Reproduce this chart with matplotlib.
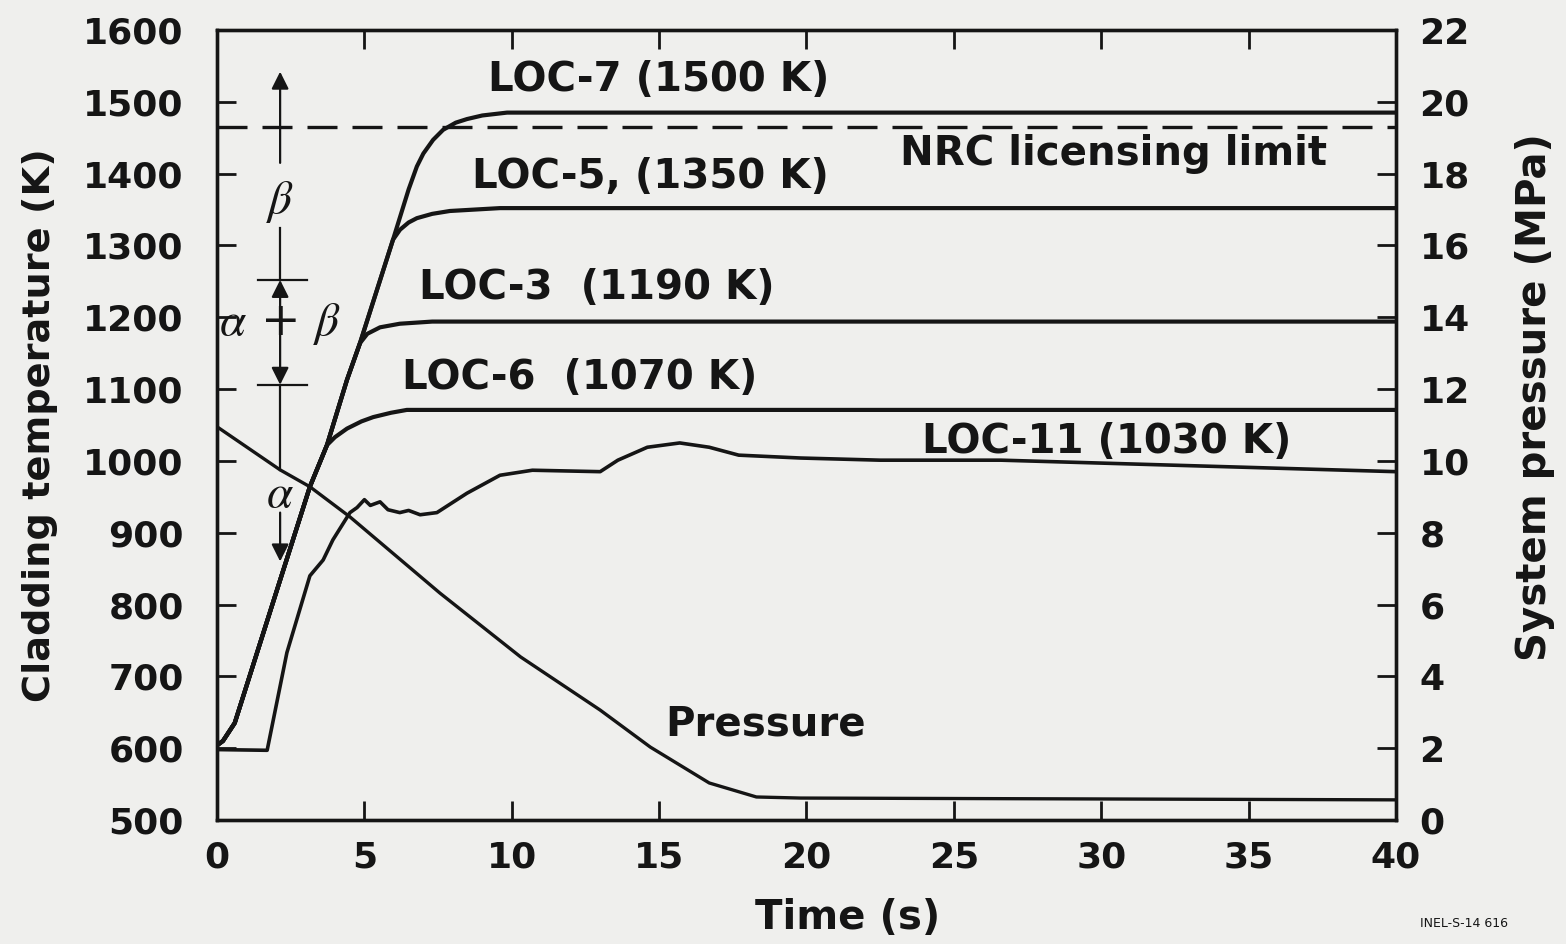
import matplotlib.pyplot as plt

plt.rcParams['font.family'] = ['DejaVu Sans']
plt.rcParams['mathtext.fontset'] = 'stix'

ink = '#151515'
paper = '#efefed'

# axis ticks
time_ticks = [0, 5, 10, 15, 20, 25, 30, 35, 40]
temp_ticks = [500, 600, 700, 800, 900, 1000, 1100, 1200, 1300, 1400, 1500, 1600]
press_ticks = [0, 2, 4, 6, 8, 10, 12, 14, 16, 18, 20, 22]

# cladding temperature traces (time s, temperature K)
loc7_t = [0, 0.2, 0.6, 2.14, 3.15, 3.73, 4.41, 4.85, 5.97, 6.5, 6.78, 7.0, 7.33, 7.67, 8.1, 8.48, 9.0, 9.84, 20, 40]
loc7_T = [604, 610, 635, 834, 964, 1022, 1113, 1164, 1308, 1378, 1410, 1428, 1447, 1461, 1471, 1476, 1481, 1485, 1485, 1485]

loc5_t = [0, 0.2, 0.6, 2.14, 3.15, 3.73, 4.41, 4.85, 5.97, 6.21, 6.5, 6.78, 7.3, 7.9, 9.6, 20, 40]
loc5_T = [604, 610, 635, 834, 964, 1022, 1113, 1164, 1308, 1322, 1332, 1338, 1344, 1348, 1352, 1352, 1352]

loc3_t = [0, 0.2, 0.6, 2.14, 3.15, 3.73, 4.41, 4.85, 5.1, 5.53, 6.2, 7.3, 20, 40]
loc3_T = [604, 610, 635, 834, 964, 1022, 1113, 1164, 1177, 1186, 1191, 1194, 1194, 1194]

loc6_t = [0, 0.2, 0.6, 2.14, 3.15, 3.73, 4.0, 4.41, 4.9, 5.3, 5.9, 6.44, 20, 40]
loc6_T = [604, 610, 635, 834, 964, 1022, 1033, 1045, 1055, 1061, 1067, 1071, 1071, 1071]

loc11_t = [0, 1.7, 2.37, 3.15, 3.6, 3.93, 4.51, 4.75, 5.0, 5.2, 5.53, 5.8, 6.2, 6.5, 6.89, 7.46,
           8.48, 9.6, 10.7, 13.0, 13.6, 14.6, 15.7, 16.7, 17.7, 19.8, 22.5, 26.6, 33.3, 40]
loc11_T = [598, 597, 733, 840, 862, 890, 928, 935, 946, 938, 943, 932, 928, 931, 925, 928,
           955, 980, 987, 985, 1001, 1019, 1025, 1019, 1008, 1004, 1001, 1001, 993, 985]

# system pressure (time s, MPa)
press_t = [0, 2.14, 3.15, 4.51, 7.56, 10.3, 13.0, 14.7, 16.7, 18.3, 19.8, 40]
press_P = [10.95, 9.75, 9.28, 8.44, 6.32, 4.54, 3.06, 2.03, 1.03, 0.64, 0.61, 0.56]

nrc_limit = 1465

fig = plt.figure(figsize=(15.66, 9.44), dpi=100, facecolor=paper)
ax = fig.add_axes([0.1386, 0.1314, 0.7528, 0.8368])
ax.set_facecolor(paper)

for tt, TT in [(loc7_t, loc7_T), (loc5_t, loc5_T), (loc3_t, loc3_T), (loc6_t, loc6_T)]:
    ax.plot(tt, TT, color=ink, lw=3.0, solid_joinstyle='round')
ax.plot(loc11_t, loc11_T, color=ink, lw=2.6, solid_joinstyle='round')
ax.axhline(nrc_limit, color=ink, lw=2.4, dashes=(9, 4.5))

ax.set_xlim(0, 40)
ax.set_ylim(500, 1600)
ax.set_xticks(time_ticks)
ax.set_yticks(temp_ticks)
ax.tick_params(axis='both', direction='in', length=14, width=2, color=ink,
               labelsize=26, pad=24)
ax.tick_params(axis='x', top=True, pad=15)
for lab in ax.get_xticklabels() + ax.get_yticklabels():
    lab.set_fontweight('bold')
    lab.set_color(ink)
for sp in ax.spines.values():
    sp.set_linewidth(2.4)
    sp.set_color(ink)

ax2 = ax.twinx()
ax2.plot(press_t, press_P, color=ink, lw=2.4)
ax2.set_ylim(0, 22)
ax2.set_yticks(press_ticks)
ax2.tick_params(axis='y', direction='in', length=14, width=2, color=ink,
                labelsize=26, pad=17)
for lab in ax2.get_yticklabels():
    lab.set_fontweight('bold')
    lab.set_color(ink)
for sp in ax2.spines.values():
    sp.set_linewidth(2.4)
    sp.set_color(ink)

fig.text(0.5415, 0.0275, 'Time (s)', fontsize=29, fontweight='bold', color=ink,
         ha='center', va='center')
fig.text(0.0255, 0.550, 'Cladding temperature (K)', fontsize=27.5, fontweight='bold',
         color=ink, rotation=90, ha='center', va='center')
fig.text(0.980, 0.579, 'System pressure (MPa)', fontsize=29, fontweight='bold',
         color=ink, rotation=90, ha='center', va='center')

# curve labels
lbl = dict(fontsize=29, fontweight='bold', color=ink, ha='center', va='center')
ax.text(15.0, 1530, 'LOC-7 (1500 K)', **lbl)
ax.text(14.7, 1396, 'LOC-5, (1350 K)', **lbl)
ax.text(12.9, 1241, 'LOC-3  (1190 K)', **lbl)
ax.text(12.3, 1116, 'LOC-6  (1070 K)', **lbl)
ax.text(30.2, 1027, 'LOC-11 (1030 K)', **lbl)
ax.text(30.4, 1428, 'NRC licensing limit', **lbl)
ax.text(18.6, 633, 'Pressure', **lbl)

# alpha / beta phase markers
xa = 2.14
arrow = dict(arrowstyle='-|>', mutation_scale=26, lw=1.6, color=ink, shrinkA=0, shrinkB=0)
ax.annotate('', xy=(xa, 1542), xytext=(xa, 1415), arrowprops=arrow)
ax.plot([xa, xa], [1252, 1324], color=ink, lw=1.6)
ax.text(xa, 1360, r'$\beta$', fontsize=34, color=ink, ha='center', va='center')
ax.plot([1.39, 3.05], [1252, 1252], color=ink, lw=1.6)
ax.plot([1.39, 3.05], [1106, 1106], color=ink, lw=1.6)
ax.annotate('', xy=(xa, 1252), xytext=(xa, 1200), arrowprops=arrow)
ax.annotate('', xy=(xa, 1106), xytext=(xa, 1185), arrowprops=arrow)
ax.text(xa, 1190, r'$\alpha$ + $\beta$', fontsize=34, color=ink, ha='center', va='center')
ax.plot([xa, xa], [988, 1106], color=ink, lw=1.6)
ax.text(xa, 953, r'$\alpha$', fontsize=34, color=ink, ha='center', va='center')
ax.annotate('', xy=(xa, 860), xytext=(xa, 928), arrowprops=arrow)

fig.text(0.935, 0.022, 'INEL-S-14 616', fontsize=9, color=ink, ha='center', va='center')

fig.savefig('out.png', dpi=100, facecolor=paper)
